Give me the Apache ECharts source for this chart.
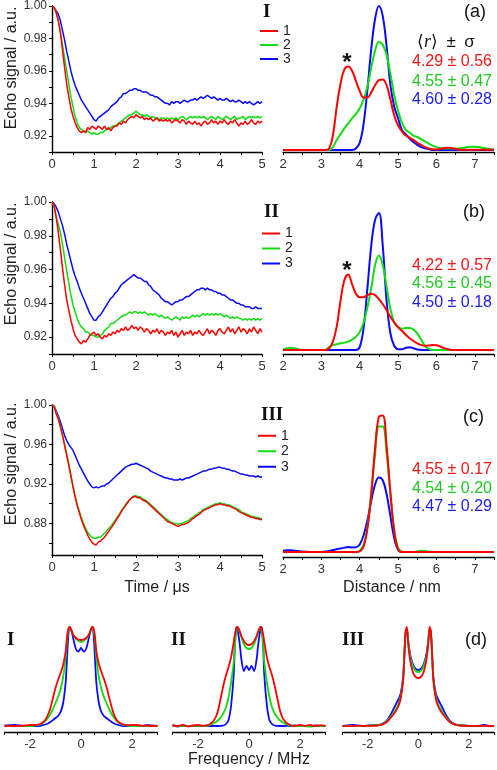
<!DOCTYPE html>
<html><head><meta charset="utf-8">
<script src="https://cdn.jsdelivr.net/npm/echarts@6/dist/echarts.min.js"></script>
<style>html,body{margin:0;padding:0;background:#fff}#c{width:497px;height:770px}</style>
</head><body><div id="c"></div>
<script>
// ---------- time axis (µs) ----------
const time = [0,0.05,0.1,0.15,0.2,0.25,0.3,0.35,0.4,0.45,0.5,0.55,0.6,0.65,0.7,0.75,0.8,0.85,0.9,0.95,1,1.05,1.1,1.15,1.2,1.25,1.3,1.35,1.4,1.45,1.5,1.55,1.6,1.65,1.7,1.75,1.8,1.85,1.9,1.95,2,2.05,2.1,2.15,2.2,2.25,2.3,2.35,2.4,2.45,2.5,2.55,2.6,2.65,2.7,2.75,2.8,2.85,2.9,2.95,3,3.05,3.1,3.15,3.2,3.25,3.3,3.35,3.4,3.45,3.5,3.55,3.6,3.65,3.7,3.75,3.8,3.85,3.9,3.95,4,4.05,4.1,4.15,4.2,4.25,4.3,4.35,4.4,4.45,4.5,4.55,4.6,4.65,4.7,4.75,4.8,4.85,4.9,4.95,5];

const echoA1 = [1.000,0.999,0.996,0.991,0.984,0.973,0.962,0.952,0.944,0.937,
0.932,0.928,0.925,0.923,0.922,0.923,0.922,0.925,0.924,0.926,
0.925,0.924,0.926,0.925,0.924,0.926,0.924,0.925,0.923,0.925,
0.926,0.926,0.928,0.927,0.929,0.928,0.930,0.931,0.932,0.931,
0.933,0.932,0.931,0.932,0.930,0.931,0.930,0.931,0.929,0.930,
0.931,0.929,0.930,0.929,0.930,0.929,0.930,0.928,0.929,0.930,
0.929,0.928,0.930,0.929,0.927,0.929,0.928,0.927,0.929,0.927,
0.928,0.926,0.928,0.929,0.927,0.928,0.930,0.928,0.929,0.927,
0.929,0.928,0.930,0.928,0.927,0.929,0.928,0.930,0.928,0.926,
0.928,0.927,0.929,0.927,0.928,0.930,0.928,0.927,0.929,0.928,0.929];
const echoA2 = [1.000,0.999,0.996,0.991,0.983,0.976,0.968,0.960,0.952,0.944,
0.938,0.932,0.928,0.925,0.924,0.923,0.922,0.923,0.922,0.921,
0.922,0.921,0.921,0.922,0.922,0.923,0.924,0.924,0.925,0.926,
0.926,0.927,0.928,0.929,0.930,0.931,0.932,0.933,0.933,0.934,
0.935,0.934,0.933,0.933,0.932,0.933,0.932,0.931,0.932,0.931,
0.931,0.930,0.931,0.931,0.930,0.931,0.930,0.931,0.930,0.931,
0.930,0.931,0.932,0.931,0.930,0.931,0.932,0.931,0.932,0.931,
0.932,0.931,0.932,0.931,0.930,0.931,0.932,0.931,0.930,0.932,
0.931,0.930,0.931,0.932,0.931,0.930,0.931,0.932,0.930,0.931,
0.931,0.932,0.930,0.931,0.932,0.931,0.932,0.931,0.932,0.931,0.932];
const echoA3 = [1.000,0.999,0.997,0.995,0.991,0.985,0.979,0.972,0.966,0.960,
0.955,0.951,0.948,0.945,0.942,0.940,0.938,0.936,0.934,0.932,
0.930,0.929,0.931,0.932,0.933,0.934,0.935,0.936,0.938,0.939,
0.940,0.941,0.943,0.944,0.946,0.946,0.947,0.948,0.948,0.949,
0.949,0.948,0.948,0.947,0.947,0.947,0.946,0.945,0.945,0.944,
0.944,0.943,0.942,0.941,0.940,0.940,0.939,0.941,0.940,0.941,
0.941,0.940,0.941,0.942,0.941,0.941,0.942,0.942,0.943,0.942,
0.943,0.944,0.943,0.944,0.945,0.944,0.943,0.944,0.943,0.942,
0.943,0.942,0.942,0.943,0.942,0.941,0.942,0.941,0.941,0.942,
0.941,0.940,0.941,0.940,0.941,0.940,0.939,0.940,0.941,0.940,0.941];

const echoB1 = [1.000,0.998,0.991,0.982,0.972,0.961,0.951,0.942,0.936,0.930,
0.925,0.921,0.919,0.917,0.916,0.918,0.917,0.919,0.921,0.922,
0.923,0.921,0.922,0.920,0.919,0.921,0.920,0.922,0.921,0.923,
0.922,0.924,0.923,0.925,0.924,0.926,0.924,0.925,0.927,0.925,
0.926,0.924,0.926,0.925,0.923,0.925,0.924,0.922,0.924,0.923,
0.925,0.922,0.924,0.923,0.921,0.923,0.922,0.924,0.921,0.923,
0.920,0.922,0.924,0.921,0.923,0.922,0.924,0.921,0.923,0.922,
0.924,0.922,0.921,0.923,0.925,0.922,0.924,0.923,0.921,0.924,
0.925,0.923,0.922,0.924,0.926,0.923,0.925,0.922,0.924,0.926,
0.923,0.925,0.924,0.922,0.925,0.923,0.926,0.924,0.922,0.925,0.923];
const echoB2 = [1.000,0.997,0.991,0.987,0.982,0.975,0.967,0.959,0.952,0.945,
0.939,0.935,0.931,0.928,0.926,0.925,0.923,0.923,0.922,0.921,
0.921,0.920,0.920,0.921,0.922,0.924,0.925,0.926,0.928,0.928,
0.929,0.930,0.931,0.932,0.933,0.933,0.934,0.935,0.934,0.935,
0.935,0.934,0.935,0.934,0.935,0.934,0.933,0.934,0.933,0.934,
0.933,0.932,0.933,0.932,0.931,0.932,0.931,0.930,0.931,0.932,
0.931,0.930,0.932,0.931,0.932,0.931,0.932,0.933,0.932,0.933,
0.932,0.933,0.934,0.933,0.934,0.933,0.934,0.933,0.934,0.933,
0.934,0.933,0.932,0.933,0.932,0.931,0.932,0.931,0.932,0.931,
0.931,0.930,0.931,0.930,0.931,0.930,0.931,0.930,0.931,0.930,0.931];
const echoB3 = [1.000,0.999,0.997,0.994,0.990,0.986,0.981,0.975,0.970,0.965,
0.960,0.956,0.953,0.949,0.946,0.943,0.940,0.937,0.934,0.932,
0.930,0.930,0.932,0.933,0.935,0.937,0.939,0.941,0.943,0.944,
0.946,0.947,0.949,0.951,0.952,0.953,0.954,0.955,0.956,0.957,
0.956,0.955,0.955,0.954,0.953,0.953,0.951,0.950,0.948,0.947,
0.946,0.945,0.943,0.942,0.941,0.941,0.940,0.939,0.940,0.941,
0.941,0.942,0.942,0.943,0.944,0.944,0.945,0.946,0.947,0.948,
0.948,0.949,0.949,0.948,0.949,0.948,0.948,0.947,0.947,0.946,
0.946,0.945,0.945,0.944,0.943,0.942,0.942,0.941,0.940,0.940,
0.939,0.939,0.938,0.938,0.938,0.937,0.937,0.938,0.937,0.937,0.937];

const echoC1 = [1.000,0.998,0.991,0.986,0.978,0.969,0.959,0.949,0.939,0.928,
0.917,0.907,0.898,0.891,0.884,0.878,0.873,0.868,0.864,0.861,
0.859,0.858,0.861,0.862,0.864,0.866,0.869,0.872,0.875,0.878,
0.881,0.885,0.888,0.892,0.895,0.898,0.901,0.904,0.906,0.907,
0.907,0.906,0.906,0.904,0.903,0.902,0.900,0.898,0.896,0.894,
0.892,0.890,0.888,0.886,0.884,0.882,0.881,0.880,0.879,0.878,
0.877,0.878,0.879,0.879,0.880,0.881,0.883,0.885,0.886,0.888,
0.889,0.891,0.893,0.894,0.895,0.896,0.897,0.898,0.899,0.899,
0.900,0.899,0.899,0.898,0.898,0.897,0.896,0.895,0.894,0.892,
0.891,0.890,0.889,0.888,0.887,0.886,0.886,0.885,0.885,0.884,0.884];
const echoC2 = [1.000,0.999,0.992,0.987,0.979,0.970,0.960,0.950,0.940,0.929,
0.918,0.908,0.899,0.892,0.886,0.880,0.875,0.871,0.868,0.866,
0.865,0.865,0.866,0.866,0.868,0.870,0.872,0.875,0.877,0.880,
0.883,0.886,0.889,0.893,0.896,0.899,0.902,0.904,0.906,0.908,
0.908,0.907,0.907,0.905,0.904,0.903,0.901,0.899,0.897,0.895,
0.893,0.891,0.889,0.887,0.885,0.884,0.882,0.881,0.880,0.880,
0.879,0.880,0.880,0.881,0.882,0.883,0.885,0.886,0.888,0.889,
0.891,0.892,0.894,0.895,0.896,0.897,0.898,0.899,0.900,0.900,
0.901,0.900,0.900,0.899,0.899,0.898,0.897,0.896,0.895,0.894,
0.892,0.891,0.890,0.889,0.888,0.887,0.887,0.886,0.886,0.885,0.885];
const echoC3 = [1.000,0.999,0.994,0.989,0.983,0.976,0.969,0.964,0.960,0.957,
0.954,0.949,0.944,0.939,0.935,0.931,0.927,0.923,0.920,0.917,
0.916,0.917,0.916,0.917,0.918,0.918,0.920,0.921,0.923,0.925,
0.927,0.929,0.931,0.933,0.935,0.937,0.938,0.939,0.940,0.940,
0.941,0.940,0.939,0.938,0.937,0.936,0.935,0.933,0.932,0.931,
0.930,0.929,0.928,0.927,0.926,0.926,0.925,0.925,0.924,0.924,
0.924,0.925,0.924,0.925,0.926,0.926,0.927,0.928,0.929,0.930,
0.931,0.932,0.933,0.933,0.934,0.935,0.935,0.936,0.936,0.937,
0.937,0.936,0.936,0.935,0.935,0.934,0.933,0.933,0.932,0.931,
0.930,0.930,0.929,0.929,0.928,0.928,0.928,0.927,0.928,0.927,0.927];

// ---------- distance distributions (nm) ----------
const dist = [2,2.1,2.2,2.3,2.4,2.5,2.6,2.7,2.8,2.9,3,3.1,3.2,3.3,3.4,3.5,3.6,3.7,3.8,3.9,4,4.1,4.2,4.3,4.4,4.5,4.6,4.7,4.8,4.9,5,5.1,5.2,5.3,5.4,5.5,5.6,5.7,5.8,5.9,6,6.1,6.2,6.3,6.4,6.5,6.6,6.7,6.8,6.9,7,7.1,7.2,7.3,7.4,7.5];
const distA1 = [0,0,0,0,0,0,0,0,0,0,0,0,
0.01,0.1,0.3,0.46,0.56,0.58,0.55,0.48,0.41,0.365,0.365,0.40,0.45,0.485,0.49,0.45,0.35,0.24,0.17,0.13,0.10,0.085,0.07,0.05,0.035,0.02,0.01,0.005,0.004,0.008,0.013,0.016,0.013,0.007,
0.002,0.002,0.002,0.002,0.002,0.002,0.002,0.002,0.002,0.002];
const distA2 = [0,0,0,0,0,0,0,0,0,0,0,0,0,
0.02,0.07,0.11,0.15,0.185,0.22,0.25,0.29,0.35,0.44,0.57,0.69,0.75,0.73,0.66,0.53,0.38,0.27,0.19,0.14,0.12,0.10,0.09,0.075,0.06,0.045,0.03,0.02,0.013,0.01,0.01,0.01,0.01,0.012,0.015,0.02,0.023,0.023,0.02,0.015,0.01,0.006,0.004];
const distA3 = [0,0,0,0,0,0,0,0,0,0,0,0,0,0,0,0,0,0,0,
0.01,0.05,0.18,0.42,0.70,0.91,1.0,0.93,0.72,0.45,0.30,0.22,0.14,0.11,0.08,0.055,0.035,0.02,0.012,0.006,0,
0,0,0,0,0,0,0,0,0,0,0,0,0,0,0,0];
const distB1 = [0,0,0,0,0,0,0,0,0,0,0,0,
0.01,0.06,0.17,0.36,0.51,0.55,0.48,0.41,0.385,0.385,0.40,0.41,0.40,0.37,0.335,0.29,0.24,0.20,0.165,0.14,0.11,0.085,0.065,0.048,0.036,0.03,0.032,0.036,0.034,0.025,0.013,0.005,
0,0,0,0,0,0,0,0,0,0,0,0];
const distB2 = [0.003,0.012,0.016,0.012,0.004,0,0,0,0,0,0,0,
0.02,0.035,0.042,0.048,0.053,0.06,0.075,0.095,0.13,0.2,0.31,0.45,0.62,0.69,0.62,0.46,0.3,0.2,0.165,0.155,0.16,0.16,0.15,0.12,0.075,0.03,0.008,
0,0,0,0,0,0,0,0,0,0,0,0,0,0,0,0,0];
const distB3 = [0,0,0,0,0,0,0,0,0,0,0,0,0,0,0,0,0,0,0,0,
0.02,0.16,0.45,0.76,0.95,1.0,0.76,0.36,0.12,0.03,0.005,0.005,0.015,0.02,0.012,0.003,
0,0,0,0,0,0,0,0,0,0,0,0,0,0,0,0,0,0,0,0];
const distC1 = [0,0,0,0,0,0,0,0,0,0,0,0,0,0,0,0,0,0,0,0,
0.005,0.04,0.17,0.42,0.75,0.98,0.99,0.77,0.43,0.15,0.02,
0,0,0,0,0,0,0,0,0,0,0,0,0,0,0,0,0,0,0,0,0,0,0,0,0];
const distC2 = [0,0,0,0,0,0,0,0,0,0,0,0,0,0,0,0,0,0,0,0,
0.01,0.05,0.18,0.42,0.71,0.91,0.91,0.72,0.42,0.16,0.03,
0.003,0,0,0,0.004,0.01,0.008,0.002,
0,0,0,0,0,0,0,0,0,0,0,0,0,0,0,0,0];
const distC3 = [0.01,0.012,0.012,0.01,0.007,0.004,0.002,0.001,0.001,0.001,0.001,0.003,0.008,0.014,0.02,0.026,0.032,0.036,0.033,0.034,
0.055,0.12,0.23,0.37,0.49,0.54,0.52,0.42,0.26,0.1,0.015,
0,0,0,0,0,0,0,0,0,0,0,0,0,0,0,0,0,0,0,0,0,0,0,0,0];

// ---------- frequency spectra (MHz) ----------
const freq = [-3,-2.8,-2.6,-2.4,-2.2,-2,-1.8,-1.6,-1.5,-1.4,-1.3,-1.2,-1.1,-1,-0.9,-0.8,-0.7,-0.6,-0.55,-0.5,-0.45,-0.4,-0.35,-0.3,-0.2,-0.1,0,0.1,0.2,0.3,0.35,0.4,0.45,0.5,0.55,0.6,0.7,0.8,0.9,1,1.1,1.2,1.3,1.4,1.5,1.6,1.8,2,2.2,2.4,2.6,2.8,3];
const specI1 = [0.01,0.012,0.01,0.012,0.015,0.02,0.02,0.03,
0.045,0.07,0.12,0.19,0.29,0.39,0.47,0.54,0.62,0.76,
0.9,0.98,1.0,0.98,0.95,0.92,0.89,0.875,0.87,0.875,0.89,
0.92,0.95,0.98,1.0,0.98,0.9,
0.76,0.63,0.55,0.48,0.4,0.3,0.2,0.12,0.07,0.045,
0.03,0.018,0.02,0.018,0.012,0.015,0.01,0.012];
const specI2 = [0.01,0.01,0.008,0.01,0.008,0.01,0.015,0.025,
0.04,0.06,0.09,0.13,0.18,0.24,0.3,0.38,0.5,0.7,
0.86,0.96,1.0,0.98,0.95,0.92,0.88,0.86,0.85,0.86,0.88,
0.92,0.95,0.98,1.0,0.96,0.86,
0.7,0.5,0.38,0.3,0.24,0.18,0.13,0.09,0.06,0.04,
0.025,0.015,0.01,0.008,0.01,0.008,0.01,0.01];
const specI3 = [0.015,0.018,0.02,0.015,0.01,0.008,0.008,0.012,
0.018,0.025,0.035,0.05,0.07,0.09,0.11,0.15,0.24,0.45,
0.68,0.9,1.0,0.985,0.94,0.88,0.78,0.755,0.79,0.755,0.78,
0.88,0.94,0.985,1.0,0.9,0.68,
0.45,0.24,0.15,0.11,0.09,0.07,0.05,0.035,0.025,0.018,
0.012,0.01,0.012,0.015,0.012,0.018,0.015,0.012];
const specII1 = [0.015,0.01,0.02,0.005,0.015,0.02,0.012,0.02,
0.035,0.06,0.1,0.18,0.3,0.42,0.52,0.6,0.7,0.85,
0.93,0.98,1.0,0.98,0.95,0.91,0.86,0.83,0.82,0.83,0.86,
0.91,0.95,0.98,1.0,0.98,0.93,
0.85,0.7,0.6,0.52,0.42,0.3,0.18,0.1,0.06,0.035,
0.02,0.01,0.02,0.012,0.02,0.008,0.018,0.01];
const specII2 = [0.01,0.008,0.01,0.012,0.01,0.012,0.01,0.015,
0.025,0.035,0.05,0.07,0.1,0.14,0.2,0.3,0.45,0.65,
0.82,0.95,1.0,0.98,0.94,0.9,0.83,0.79,0.78,0.79,0.83,
0.9,0.94,0.98,1.0,0.95,0.82,
0.65,0.45,0.3,0.2,0.14,0.1,0.07,0.05,0.035,0.025,
0.015,0.01,0.008,0.01,0.005,0.01,0.008,0.01];
const specII3 = [0.02,0.005,0.015,0.01,0.012,0.01,0.012,0.01,
0.01,0.01,0.01,0.01,0.012,0.015,0.03,0.07,0.22,0.52,
0.85,1.0,0.97,0.9,0.8,0.68,0.56,0.61,0.57,0.61,0.56,
0.68,0.8,0.9,0.97,1.0,0.85,
0.52,0.22,0.07,0.03,0.015,0.012,0.01,0.01,0.01,0.012,
0.01,0.015,0.01,0.012,0.008,0.015,0.01,0.012];
const specIII1 = [0.01,0.008,0.01,0.012,0.01,0.012,0.012,0.015,
0.02,0.028,0.04,0.06,0.09,0.12,0.155,0.2,0.28,0.46,
0.72,0.96,1.0,0.84,0.72,0.64,0.54,0.5,0.49,0.5,0.54,
0.64,0.72,0.84,1.0,0.96,0.72,
0.46,0.28,0.2,0.155,0.12,0.09,0.06,0.04,0.028,0.02,
0.015,0.012,0.01,0.012,0.01,0.012,0.01,0.01];
const specIII2 = [0.01,0.01,0.012,0.01,0.01,0.012,0.015,0.018,
0.022,0.03,0.045,0.07,0.1,0.13,0.17,0.22,0.3,0.47,
0.72,0.95,0.98,0.86,0.75,0.68,0.6,0.56,0.55,0.56,0.6,
0.68,0.75,0.86,0.98,0.95,0.72,
0.47,0.3,0.22,0.17,0.13,0.1,0.07,0.045,0.03,0.022,
0.018,0.015,0.012,0.01,0.01,0.012,0.01,0.01];
const specIII3 = [0.012,0.015,0.022,0.015,0.012,0.015,0.018,0.02,
0.025,0.035,0.05,0.08,0.12,0.17,0.22,0.27,0.33,0.5,
0.72,0.94,0.97,0.87,0.77,0.7,0.62,0.58,0.57,0.58,0.62,
0.7,0.77,0.87,0.97,0.94,0.72,
0.5,0.33,0.27,0.22,0.17,0.12,0.08,0.05,0.035,0.025,
0.02,0.015,0.012,0.01,0.012,0.02,0.012,0.01];

// ---------- labels ----------
const legendNames = ['1','2','3'];
const statsA = ['4.29 \u00b1 0.56','4.55 \u00b1 0.47','4.60 \u00b1 0.28'];
const statsB = ['4.22 \u00b1 0.57','4.56 \u00b1 0.45','4.50 \u00b1 0.18'];
const statsC = ['4.55 \u00b1 0.17','4.54 \u00b1 0.20','4.47 \u00b1 0.29'];
const yTicksAB = [0.92,0.94,0.96,0.98,1.00];
const yTicksC = [0.88,0.92,0.96,1.00];
const yMinorC = [0.86,0.88,0.90,0.92,0.94,0.96,0.98,1.00];

// ---------- styling ----------
const FONT = '"Liberation Sans", Arial, Helvetica, sans-serif';
const SERIF = '"Liberation Serif", "Times New Roman", serif';
const RED = '#ff0000', GREEN = '#12dc12', BLUE = '#0a0aff';
const TRED = '#f21616', TGREEN = '#22c922', TBLUE = '#1c1cf5';
const AX = '#000', LAB = '#333';

const grids = [
  {left:52, top:5, width:210, height:147},
  {left:283, top:6, width:215, height:146},
  {left:52, top:202, width:210, height:152},
  {left:283, top:213, width:215, height:141},
  {left:52, top:405, width:210, height:150},
  {left:283, top:414, width:215, height:143},
  {left:4.5, top:627, width:153, height:105},
  {left:172.5, top:627, width:153, height:105},
  {left:342.5, top:627, width:153, height:105}
];

function baseX(gi, min, max, fmt){
  return {gridIndex:gi, type:'value', min:min, max:max, interval:0.5,
    axisLine:{show:true, onZero:false, lineStyle:{color:AX, width:1.4}},
    axisTick:{show:true, length:3, lineStyle:{color:AX, width:1}},
    axisLabel:{fontSize:13, color:LAB, fontFamily:FONT, margin:6, formatter:fmt},
    splitLine:{show:false}};
}
const intFmt = v => Number.isInteger(v) ? String(v) : '';
const freqFmt = v => (v === -2 || v === 0 || v === 2) ? String(v) : '';

const xAxes = [
  baseX(0,0,5,intFmt), baseX(1,2,7.5,intFmt),
  baseX(2,0,5,intFmt), baseX(3,2,7.5,intFmt),
  baseX(4,0,5,intFmt), baseX(5,2,7.5,intFmt),
  baseX(6,-3,3,freqFmt), baseX(7,-3,3,freqFmt), baseX(8,-3,3,freqFmt)
];

function yEcho(gi){
  return {gridIndex:gi, type:'value', min:0.91, max:1.0, interval:0.01,
    axisLine:{show:true, lineStyle:{color:AX, width:1.4}},
    axisTick:{show:true, length:3, lineStyle:{color:AX}},
    axisLabel:{fontSize:12, color:LAB, fontFamily:FONT, margin:5,
      formatter: v => { const k = Math.round(v*100); return yTicksAB.some(t => Math.round(t*100) === k) ? (k/100).toFixed(2) : ''; }},
    splitLine:{show:false}};
}
const yAxes = [
  yEcho(0),
  {gridIndex:1, type:'value', min:-0.014, max:1, show:false},
  yEcho(2),
  {gridIndex:3, type:'value', min:-0.03, max:1, show:false},
  {gridIndex:4, type:'value', min:0.848, max:1.0,
    axisLine:{show:true, lineStyle:{color:AX, width:1.4}},
    axisTick:{show:true, length:3, lineStyle:{color:AX}, customValues:yMinorC},
    axisLabel:{fontSize:12, color:LAB, fontFamily:FONT, margin:5, customValues:yTicksC, formatter: v => v.toFixed(2)},
    splitLine:{show:false}},
  {gridIndex:5, type:'value', min:-0.036, max:1, show:false},
  {gridIndex:6, type:'value', min:-0.05, max:1, show:false},
  {gridIndex:7, type:'value', min:-0.05, max:1, show:false},
  {gridIndex:8, type:'value', min:-0.05, max:1, show:false}
];

function line(name, gi, xs, ys, color, width, smooth){
  return {name:name, type:'line', xAxisIndex:gi, yAxisIndex:gi,
    data: xs.map((x,i) => [x, ys[i]]), showSymbol:false, symbol:'none',
    smooth: smooth, lineStyle:{color:color, width:width}, itemStyle:{color:color},
    emphasis:{disabled:true}};
}
const TW = 1.5, DW = 2, SW = 1.8;
const series = [
  line('3',0,time,echoA3,BLUE,TW,false), line('2',0,time,echoA2,GREEN,TW,false), line('1',0,time,echoA1,RED,TW,false),
  line('3',1,dist,distA3,BLUE,DW,0.4), line('2',1,dist,distA2,GREEN,DW,0.4), line('1',1,dist,distA1,RED,DW,0.4),
  line('3',2,time,echoB3,BLUE,TW,false), line('2',2,time,echoB2,GREEN,TW,false), line('1',2,time,echoB1,RED,TW,false),
  line('3',3,dist,distB3,BLUE,DW,0.4), line('2',3,dist,distB2,GREEN,DW,0.4), line('1',3,dist,distB1,RED,DW,0.4),
  line('3',4,time,echoC3,BLUE,TW,false), line('2',4,time,echoC2,GREEN,TW,false), line('1',4,time,echoC1,RED,TW,false),
  line('3',5,dist,distC3,BLUE,DW,0.4), line('2',5,dist,distC2,GREEN,DW,0.4), line('1',5,dist,distC1,RED,DW,0.4),
  line('3',6,freq,specI3,BLUE,SW,0.3), line('2',6,freq,specI2,GREEN,SW,0.3), line('1',6,freq,specI1,RED,SW,0.3),
  line('3',7,freq,specII3,BLUE,SW,0.3), line('2',7,freq,specII2,GREEN,SW,0.3), line('1',7,freq,specII1,RED,SW,0.3),
  line('3',8,freq,specIII3,BLUE,SW,0.3), line('2',8,freq,specIII2,GREEN,SW,0.3), line('1',8,freq,specIII1,RED,SW,0.3)
];

function leg(left, top, lh){
  return {data:legendNames, orient:'vertical', left:left, top:top, padding:0, itemGap:0,
    itemWidth:18, itemHeight:2, icon:'rect', selectedMode:false,
    textStyle:{fontSize:14, lineHeight:lh, color:'#222', fontFamily:FONT, padding:[0,0,0,0]}};
}

function txt(x, y, text, opt){
  return {type:'text', x:x, y:y, silent:true, style:Object.assign({text:text, fontFamily:FONT, fontSize:16, fill:'#111', align:'left', verticalAlign:'middle'}, opt||{})};
}
const roman = (x, y, t) => txt(x, y, t, {fontFamily:SERIF, fontWeight:'bold', fontSize:19, fill:'#111'});
const vtitle = y => ({type:'text', x:12, y:y, rotation:Math.PI/2, silent:true, style:{text:'Echo signal / a.u.', fontFamily:FONT, fontSize:16, fill:'#222', align:'center', verticalAlign:'middle'}});

const graphic = [
  vtitle(68), vtitle(264), vtitle(464),
  txt(157, 588, 'Time / \u03bcs', {align:'center', fill:'#222'}),
  txt(392, 588, 'Distance / nm', {align:'center', fill:'#222'}),
  txt(249, 760, 'Frequency / MHz', {align:'center', fill:'#222'}),
  roman(263, 12, 'I'), roman(264, 212, 'II'), roman(261, 415, 'III'),
  roman(7, 640, 'I'), roman(171, 640, 'II'), roman(342, 640, 'III'),
  txt(464, 12, '(a)', {fontSize:18, fill:'#111'}),
  txt(463, 212, '(b)', {fontSize:18, fill:'#111'}),
  txt(463, 417, '(c)', {fontSize:18, fill:'#111'}),
  txt(465, 640, '(d)', {fontSize:18, fill:'#111'}),
  {type:'text', x:417, y:42, silent:true, style:{text:'\u27e8{it|r}\u27e9\u2002\u00b1\u2002\u03c3', fontFamily:FONT, fontSize:17, fill:'#111', align:'left', verticalAlign:'middle',
     rich:{it:{fontFamily:SERIF, fontStyle:'italic', fontSize:18, fill:'#111'}}}},
  txt(412, 62, statsA[0], {fill:TRED}), txt(412, 82, statsA[1], {fill:TGREEN}), txt(412, 100, statsA[2], {fill:TBLUE}),
  txt(412, 266, statsB[0], {fill:TRED}), txt(412, 284, statsB[1], {fill:TGREEN}), txt(412, 303, statsB[2], {fill:TBLUE}),
  txt(412, 470, statsC[0], {fill:TRED}), txt(412, 489, statsC[1], {fill:TGREEN}), txt(412, 507, statsC[2], {fill:TBLUE}),
  txt(347, 63, '*', {fontSize:24, fontWeight:'bold', align:'center', fill:'#111'}),
  txt(347, 271, '*', {fontSize:24, fontWeight:'bold', align:'center', fill:'#111'})
];

const chart = echarts.init(document.getElementById('c'), null, {renderer:'canvas'});
chart.setOption({
  animation:false,
  backgroundColor:'#fff',
  grid:grids, xAxis:xAxes, yAxis:yAxes, series:series,
  legend:[leg(260,24,12), leg(262,226,15), leg(258,428,15.5)],
  graphic:graphic
});
</script></body></html>
